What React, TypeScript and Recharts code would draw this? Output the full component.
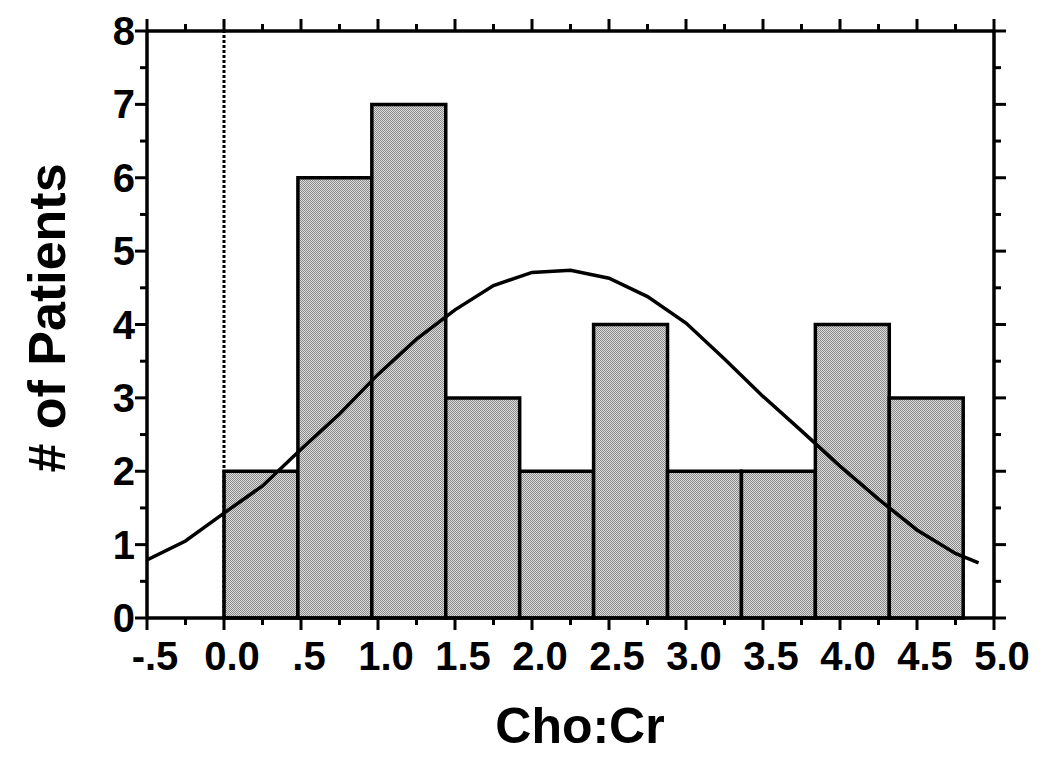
import {
  ComposedChart,
  Line,
  XAxis,
  YAxis,
  ReferenceArea,
  ReferenceLine,
  Label,
} from "recharts";

// histogram bins (Cho:Cr) and counts
const binEdges = [0, 0.48, 0.96, 1.44, 1.92, 2.4, 2.88, 3.36, 3.84, 4.32, 4.8];
const patientCounts = [2, 6, 7, 3, 2, 4, 2, 2, 4, 3];

// fitted curve
const curveX = [
  -0.5, -0.25, 0, 0.25, 0.5, 0.75, 1.0, 1.25, 1.5, 1.75, 2.0, 2.25, 2.5, 2.75, 3.0, 3.25,
  3.5, 3.75, 4.0, 4.25, 4.5, 4.75, 4.9,
];
const curveY = [
  0.79, 1.05, 1.43, 1.8, 2.3, 2.78, 3.32, 3.8, 4.2, 4.53, 4.71, 4.74, 4.63, 4.38, 4.02, 3.53,
  3.02, 2.55, 2.07, 1.62, 1.2, 0.88, 0.75,
];

const xMajorTicks = [-0.5, 0, 0.5, 1, 1.5, 2, 2.5, 3, 3.5, 4, 4.5, 5];
const xTickLabels = ["-.5", "0.0", ".5", "1.0", "1.5", "2.0", "2.5", "3.0", "3.5", "4.0", "4.5", "5.0"];
const xMinorTicks = [-0.25, 0.25, 0.75, 1.25, 1.75, 2.25, 2.75, 3.25, 3.75, 4.25, 4.75];
const yMajorTicks = [0, 1, 2, 3, 4, 5, 6, 7, 8];
const yMinorTicks = [0.5, 1.5, 2.5, 3.5, 4.5, 5.5, 6.5, 7.5];

const data = curveX.map((x, i) => ({ x, fit: curveY[i] }));
const xTicks = [...xMajorTicks, ...xMinorTicks].sort((a, b) => a - b);
const yTicks = [...yMajorTicks, ...yMinorTicks].sort((a, b) => a - b);

const FONT = "'Liberation Sans', Arial, sans-serif";
const MAJOR = 12;
const MINOR = 7;
const LW = 3.5;

function isMajor(v: number, list: number[]) {
  return list.some((m) => Math.abs(m - v) < 1e-6);
}

function BottomTick(props: any) {
  const { x, y, payload } = props;
  const v = payload.value;
  const major = isMajor(v, xMajorTicks);
  const idx = xMajorTicks.findIndex((m) => Math.abs(m - v) < 1e-6);
  return (
    <g>
      <line x1={x} x2={x} y1={y} y2={y + (major ? MAJOR : MINOR)} stroke="#000" strokeWidth={3} />
      {major && (
        <text x={x + 8} y={y + 52} textAnchor="middle" fontFamily={FONT} fontWeight="bold" fontSize={40} fill="#000">
          {xTickLabels[idx]}
        </text>
      )}
    </g>
  );
}

function TopTick(props: any) {
  const { x, y, payload } = props;
  const major = isMajor(payload.value, xMajorTicks);
  return <line x1={x} x2={x} y1={y} y2={y - (major ? MAJOR : MINOR)} stroke="#000" strokeWidth={3} />;
}

function LeftTick(props: any) {
  const { x, y, payload } = props;
  const v = payload.value;
  const major = isMajor(v, yMajorTicks);
  return (
    <g>
      <line x1={x - (major ? MAJOR : MINOR)} x2={x} y1={y} y2={y} stroke="#000" strokeWidth={3} />
      {major && (
        <text x={x - 12} y={y + 14} textAnchor="end" fontFamily={FONT} fontWeight="bold" fontSize={40} fill="#000">
          {String(v)}
        </text>
      )}
    </g>
  );
}

function RightTick(props: any) {
  const { x, y, payload } = props;
  const major = isMajor(payload.value, yMajorTicks);
  return <line x1={x} x2={x + (major ? MAJOR : MINOR)} y1={y} y2={y} stroke="#000" strokeWidth={3} />;
}

export default function App() {
  const axisLine = { stroke: "#000", strokeWidth: LW };
  return (
    <div style={{ position: "absolute", left: 0, top: 0, background: "#fff" }}>
      <ComposedChart
        width={1050}
        height={759}
        data={data}
        margin={{ top: 11, right: 16, bottom: 81, left: 87 }}
      >
        <defs>
          <pattern id="stipple" width={2} height={2} patternUnits="userSpaceOnUse">
            <rect x={0} y={0} width={2} height={2} fill="#dcdcdc" />
            <rect x={0} y={0} width={1} height={1} fill="#8a8a8a" />
            <rect x={1} y={1} width={1} height={1} fill="#8a8a8a" />
          </pattern>
        </defs>
        <XAxis
          xAxisId="b"
          dataKey="x"
          type="number"
          domain={[-0.5, 5]}
          ticks={xTicks}
          allowDataOverflow
          height={60}
          tickSize={0}
          tickMargin={0}
          tickLine={false}
          axisLine={axisLine}
          tick={<BottomTick />}
          interval={0}
        >
          <Label
            content={() => (
              <text x={580} y={743} textAnchor="middle" fontFamily={FONT} fontWeight="bold" fontSize={50} fill="#000">
                Cho:Cr
              </text>
            )}
          />
        </XAxis>
        <XAxis
          xAxisId="t"
          dataKey="x"
          type="number"
          orientation="top"
          domain={[-0.5, 5]}
          ticks={xTicks}
          allowDataOverflow
          height={20}
          tickSize={0}
          tickMargin={0}
          tickLine={false}
          axisLine={axisLine}
          tick={<TopTick />}
          interval={0}
        />
        <YAxis
          yAxisId="l"
          type="number"
          domain={[0, 8]}
          ticks={yTicks}
          allowDataOverflow
          width={60}
          tickSize={0}
          tickMargin={0}
          tickLine={false}
          axisLine={axisLine}
          tick={<LeftTick />}
          interval={0}
        >
          <Label
            content={() => (
              <text
                x={65}
                y={318}
                transform="rotate(-90 65 318)"
                textAnchor="middle"
                fontFamily={FONT}
                fontWeight="bold"
                fontSize={52}
                fill="#000"
              >
                # of Patients
              </text>
            )}
          />
        </YAxis>
        <YAxis
          yAxisId="r"
          type="number"
          orientation="right"
          domain={[0, 8]}
          ticks={yTicks}
          allowDataOverflow
          width={40}
          tickSize={0}
          tickMargin={0}
          tickLine={false}
          axisLine={axisLine}
          tick={<RightTick />}
          interval={0}
        />
        {patientCounts.map((c, i) => (
          <ReferenceArea
            key={i}
            xAxisId="b"
            yAxisId="l"
            x1={binEdges[i]}
            x2={binEdges[i + 1]}
            y1={0}
            y2={c}
            fill="url(#stipple)"
            fillOpacity={1}
            stroke="#000"
            strokeWidth={LW}
            ifOverflow="extendDomain"
          />
        ))}
        <ReferenceLine
          xAxisId="b"
          yAxisId="l"
          x={0}
          stroke="#000"
          strokeWidth={3}
          strokeDasharray="3 2"
        />
        <Line
          xAxisId="b"
          yAxisId="l"
          dataKey="fit"
          type="linear"
          stroke="#000"
          strokeWidth={LW}
          dot={false}
          isAnimationActive={false}
        />
      </ComposedChart>
    </div>
  );
}
